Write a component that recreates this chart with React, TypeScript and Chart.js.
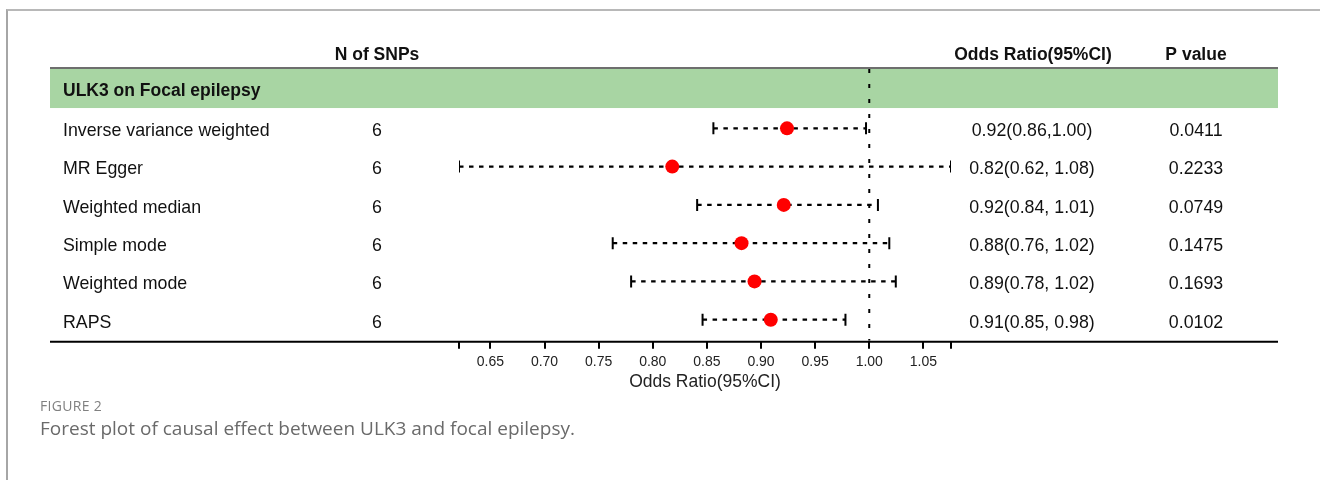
import React, { useEffect, useRef } from "react";
import { Chart, registerables } from "chart.js";

Chart.register(...registerables);

const METHODS = [
  "Inverse variance weighted",
  "MR Egger",
  "Weighted median",
  "Simple mode",
  "Weighted mode",
  "RAPS",
];
const N_SNPS = [6, 6, 6, 6, 6, 6];
const OR = [0.924, 0.818, 0.921, 0.882, 0.894, 0.909];
const LOWER = [0.856, 0.621, 0.841, 0.763, 0.78, 0.846];
const UPPER = [0.997, 1.0755, 1.008, 1.0185, 1.0245, 0.978];
const OR_TEXT = [
  "0.92(0.86,1.00)",
  "0.82(0.62, 1.08)",
  "0.92(0.84, 1.01)",
  "0.88(0.76, 1.02)",
  "0.89(0.78, 1.02)",
  "0.91(0.85, 0.98)",
];
const P_TEXT = ["0.0411", "0.2233", "0.0749", "0.1475", "0.1693", "0.0102"];
const X_TICKS = [0.65, 0.7, 0.75, 0.8, 0.85, 0.9, 0.95, 1.0, 1.05];
const GROUP_TITLE = "ULK3 on Focal epilepsy";
const HEADERS = { n: "N of SNPs", or: "Odds Ratio(95%CI)", p: "P value" };
const X_TITLE = "Odds Ratio(95%CI)";
const REF_VALUE = 1.0;

const X_MIN = Math.min(...LOWER);
const X_MAX = Math.max(...UPPER);
const Y_MIN = -0.55;
const Y_MAX = 6.55;

const FONT = '"Liberation Sans", Arial, sans-serif';

export default function App() {
  const ref = useRef<HTMLCanvasElement | null>(null);

  useEffect(() => {
    const canvas = ref.current;
    if (!canvas) return;

    const tablePlugin = {
      id: "tablePlugin",
      beforeDatasetsDraw(chart: any) {
        const { ctx, chartArea, scales } = chart;
        const y = scales.y;
        const left = 50;
        const right = 1278;
        ctx.save();
        const bandBottom = y.getPixelForValue(0.47);
        ctx.fillStyle = "#a8d5a3";
        ctx.fillRect(left, chartArea.top, right - left, bandBottom - chartArea.top);
        ctx.strokeStyle = "#6e6e6e";
        ctx.lineWidth = 2;
        ctx.beginPath();
        ctx.moveTo(left, chartArea.top - 1);
        ctx.lineTo(right, chartArea.top - 1);
        ctx.stroke();
        ctx.restore();
      },
      afterDraw(chart: any) {
        const { ctx, chartArea, scales } = chart;
        const y = scales.y;
        const left = 50;
        const right = 1278;
        ctx.save();
        ctx.strokeStyle = "#000";
        ctx.lineWidth = 2;
        ctx.beginPath();
        ctx.moveTo(left, chartArea.bottom + 1);
        ctx.lineTo(right, chartArea.bottom + 1);
        ctx.stroke();

        ctx.fillStyle = "#111";
        ctx.textBaseline = "middle";
        const hy = chartArea.top - 14;
        ctx.font = `bold 17.5px ${FONT}`;
        ctx.textAlign = "center";
        ctx.fillText(HEADERS.n, 377, hy);
        ctx.fillText(HEADERS.or, 1033, hy);
        ctx.fillText(HEADERS.p, 1196, hy);
        ctx.textAlign = "left";
        ctx.fillText(GROUP_TITLE, 63, y.getPixelForValue(0) + 1);
        ctx.font = `17.8px ${FONT}`;
        METHODS.forEach((m, i) => {
          const py = y.getPixelForValue(i + 1) + 3;
          ctx.textAlign = "left";
          ctx.fillText(m, 63, py);
          ctx.textAlign = "center";
          ctx.fillText(String(N_SNPS[i]), 377, py);
          ctx.fillText(OR_TEXT[i], 1032, py);
          ctx.fillText(P_TEXT[i], 1196, py);
        });
        ctx.restore();
      },
    };

    const whiskerSets = METHODS.map((m, i) => ({
      type: "line" as const,
      label: m + " CI",
      data: [
        { x: LOWER[i], y: i + 1 },
        { x: UPPER[i], y: i + 1 },
      ],
      showLine: true,
      borderColor: "#000",
      borderWidth: 2.2,
      borderDash: [4.5, 5.5],
      pointStyle: "line",
      rotation: 90,
      pointRadius: 6,
      pointBorderWidth: 2,
      pointBorderColor: "#000",
      pointBackgroundColor: "#000",
      order: 2,
    }));

    const chart = new Chart(canvas, {
      type: "scatter",
      data: {
        datasets: [
          {
            label: "OR",
            data: OR.map((v, i) => ({ x: v, y: i + 1 })),
            pointRadius: 7,
            pointHoverRadius: 7,
            backgroundColor: "#ff0000",
            borderWidth: 0,
            order: 0,
          } as any,
          {
            type: "line",
            label: "ref",
            data: [
              { x: REF_VALUE, y: Y_MIN },
              { x: REF_VALUE, y: Y_MAX },
            ],
            showLine: true,
            borderColor: "#000",
            borderWidth: 2,
            borderDash: [4, 11],
            pointRadius: 0,
            order: 3,
          } as any,
          ...(whiskerSets as any[]),
        ],
      },
      options: {
        animation: false,
        responsive: false,
        events: [],
        layout: { padding: { top: 69, left: 459, right: 369, bottom: 9.5 } },
        plugins: {
          legend: { display: false },
          tooltip: { enabled: false },
        },
        scales: {
          x: {
            type: "linear",
            min: X_MIN,
            max: X_MAX,
            afterBuildTicks(scale: any) {
              scale.ticks = [X_MIN, ...X_TICKS, X_MAX].map((v) => ({ value: v }));
            },
            border: { display: false },
            grid: {
              drawOnChartArea: false,
              drawTicks: true,
              tickLength: 8,
              tickColor: "#000",
              tickWidth: 2,
              color: "#000",
              lineWidth: 2,
            },
            ticks: {
              autoSkip: false,
              maxRotation: 0,
              padding: 6,
              color: "#222",
              font: { family: FONT, size: 14, lineHeight: 1.0 },
              callback: (v: any) =>
                X_TICKS.some((t) => Math.abs(t - Number(v)) < 1e-9) ? Number(v).toFixed(2) : "",
            },
            title: {
              display: true,
              text: X_TITLE,
              color: "#222",
              font: { family: FONT, size: 17.5, lineHeight: 0.9 },
              padding: { top: 0, bottom: 0 },
            },
          },
          y: {
            type: "linear",
            display: false,
            reverse: true,
            min: Y_MIN,
            max: Y_MAX,
          },
        },
      },
      plugins: [tablePlugin],
    } as any);

    return () => chart.destroy();
  }, []);

  return (
    <div style={{ position: "absolute", left: 0, top: 0, width: 1320, height: 480, background: "#fff", overflow: "hidden" }}>
      <div
        style={{
          position: "absolute",
          left: 6,
          top: 9,
          width: 1330,
          height: 490,
          borderTop: "2px solid #b8b8b8",
          borderLeft: "2px solid #a6a6a6",
          boxSizing: "border-box",
        }}
      />
      <canvas ref={ref} width={1320} height={400} style={{ position: "absolute", left: 0, top: 0, width: 1320, height: 400 }} />
      <div
        style={{
          position: "absolute",
          left: 40,
          top: 397,
          fontFamily: '"Open Sans", sans-serif',
          fontSize: 14,
          letterSpacing: 0.3,
          color: "#808080",
          lineHeight: "18px",
        }}
      >
        FIGURE 2
      </div>
      <div
        style={{
          position: "absolute",
          left: 40,
          top: 416,
          fontFamily: '"Open Sans", sans-serif',
          fontSize: 19,
          color: "#6a6a6a",
          lineHeight: "24px",
        }}
      >
        Forest plot of causal effect between ULK3 and focal epilepsy.
      </div>
    </div>
  );
}
